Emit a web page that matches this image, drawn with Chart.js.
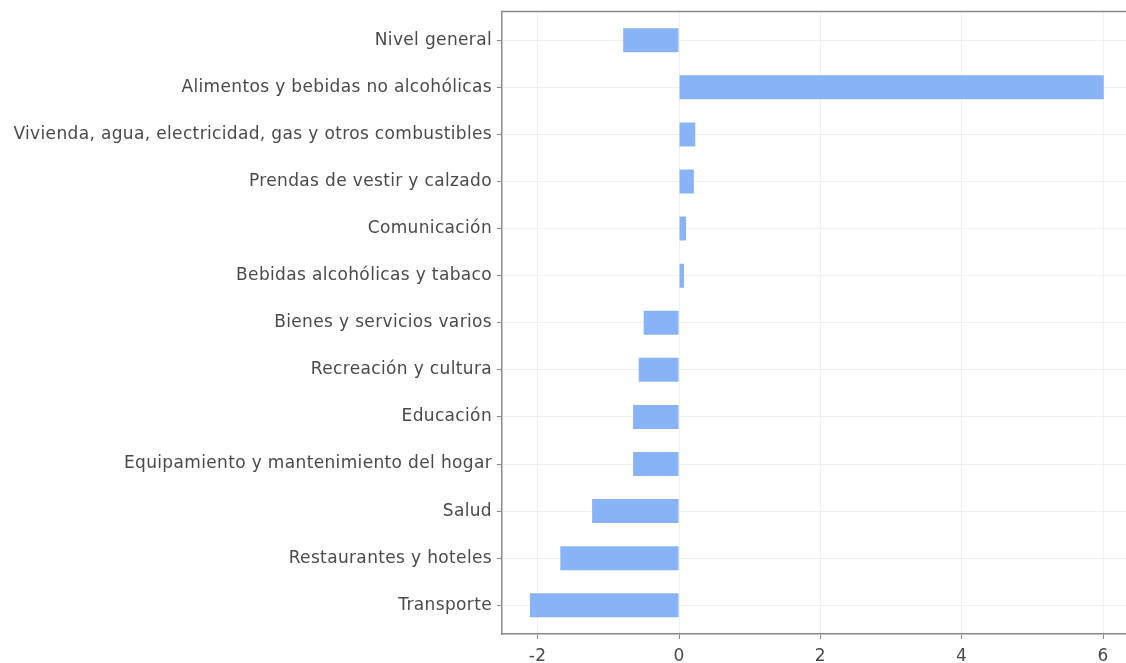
<!DOCTYPE html>
<html>
<head>
<meta charset="utf-8">
<script src="https://cdn.jsdelivr.net/npm/chart.js@4/dist/chart.umd.min.js"></script>
<style>
  html, body { margin: 0; padding: 0; background: #fff; }
  #wrap { width: 1126px; height: 663px; position: relative; }
</style>
</head>
<body>
<div id="wrap"><canvas id="chart"></canvas></div>
<script>
// categorías (de arriba hacia abajo)
const categories = [
  "Nivel general",
  "Alimentos y bebidas no alcohólicas",
  "Vivienda, agua, electricidad, gas y otros combustibles",
  "Prendas de vestir y calzado",
  "Comunicación",
  "Bebidas alcohólicas y tabaco",
  "Bienes y servicios varios",
  "Recreación y cultura",
  "Educación",
  "Equipamiento y mantenimiento del hogar",
  "Salud",
  "Restaurantes y hoteles",
  "Transporte",
];

// variación (%)
const values = [-0.79, 6.01, 0.23, 0.21, 0.10, 0.07, -0.50, -0.57, -0.65, -0.65, -1.23, -1.68, -2.11];

const xTicks = [-2, 0, 2, 4, 6];
const xRange = [-2.505, 6.325];

const axisColor = "#8a8a8a";
const gridColor = "#f0f0f0";
const textColor = "#4a4a4a";
const barColor = "#89b3f7";

// texto algo más ancho (tipo Verdana) y línea superior del marco
const frame = {
  id: "frame",
  beforeUpdate(chart) {
    chart.ctx.letterSpacing = "0.35px";
  },
  beforeDraw(chart) {
    chart.ctx.letterSpacing = "0.35px";
  },
  afterDraw(chart) {
    const { ctx, chartArea } = chart;
    ctx.save();
    ctx.strokeStyle = axisColor;
    ctx.lineWidth = 1.5;
    ctx.beginPath();
    ctx.moveTo(chartArea.left - 0.75, chartArea.top);
    ctx.lineTo(chartArea.right, chartArea.top);
    ctx.stroke();
    ctx.restore();
  },
};

new Chart(document.getElementById("chart"), {
  type: "bar",
  data: {
    labels: categories,
    datasets: [
      {
        data: values,
        backgroundColor: barColor,
        borderWidth: 0,
        barPercentage: 0.51,
        categoryPercentage: 1,
      },
    ],
  },
  options: {
    indexAxis: "y",
    responsive: true,
    maintainAspectRatio: false,
    animation: false,
    layout: { padding: { top: 11.5, right: 0, left: 0, bottom: 0 } },
    plugins: {
      legend: { display: false },
      tooltip: { enabled: false },
    },
    scales: {
      x: {
        min: xRange[0],
        max: xRange[1],
        afterBuildTicks: (scale) => {
          scale.ticks = xTicks.map((v) => ({ value: v }));
        },
        afterFit: (scale) => {
          scale.height = 29;
          scale.paddingLeft = 0;
          scale.paddingRight = 0;
        },
        grid: {
          color: gridColor,
          tickColor: axisColor,
          tickLength: 5,
        },
        border: { color: axisColor, width: 1.5 },
        ticks: {
          color: textColor,
          font: { family: "DejaVu Sans", size: 17 },
          padding: 7,
          maxRotation: 0,
        },
      },
      y: {
        offset: true,
        afterBuildTicks: (scale) => {
          // un poco más de margen arriba y abajo, como en el original
          scale._startValue -= 0.11;
          scale._valueRange += 0.22;
        },
        afterFit: (scale) => {
          scale.width = 502;
          scale.paddingTop = 0;
          scale.paddingBottom = 0;
        },
        grid: {
          offset: false,
          color: gridColor,
          tickColor: axisColor,
          tickLength: 5,
        },
        border: { color: axisColor, width: 1.5 },
        ticks: {
          color: textColor,
          font: { family: "DejaVu Sans", size: 17 },
          padding: 5,
          autoSkip: false,
        },
      },
    },
  },
  plugins: [frame],
});
</script>
</body>
</html>
